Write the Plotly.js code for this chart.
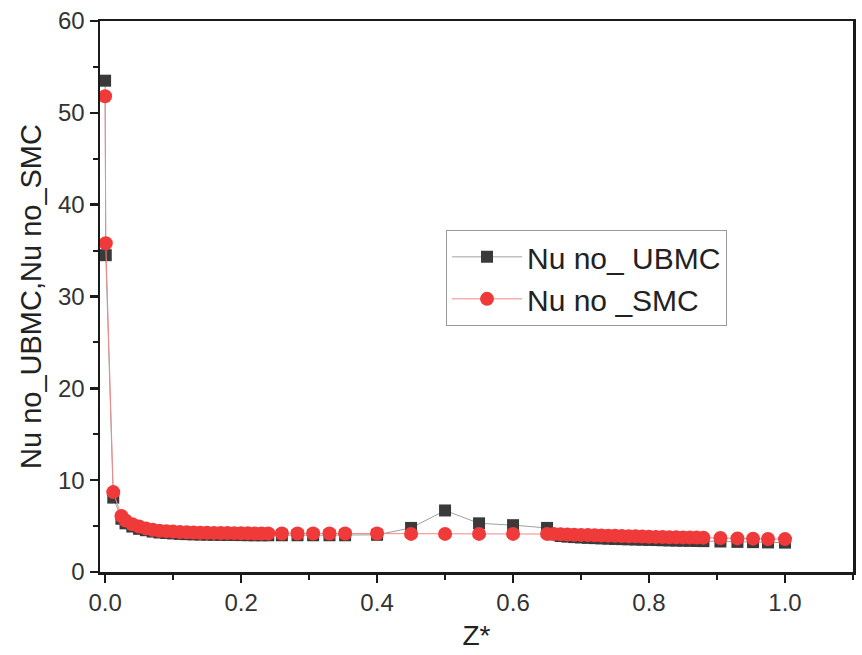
<!DOCTYPE html>
<html>
<head>
<meta charset="utf-8">
<script src="https://cdn.plot.ly/plotly-3.0.1.min.js"></script>
<style>html,body{margin:0;padding:0;background:#fff;}#chart{width:862px;height:655px;}</style>
</head>
<body>
<div id="chart"></div>
<script>
const zStar = [0, 0.001, 0.012, 0.024, 0.03, 0.04, 0.05, 0.06, 0.07, 0.08, 0.09, 0.10, 0.11,
  0.12, 0.13, 0.14, 0.15, 0.16, 0.17, 0.18, 0.19, 0.20, 0.21, 0.22, 0.23, 0.24,
  0.26, 0.283, 0.306, 0.33, 0.353,
  0.40, 0.45, 0.50, 0.55, 0.60, 0.65,
  0.66, 0.67, 0.68, 0.69, 0.70, 0.71, 0.72, 0.73, 0.74, 0.75, 0.76, 0.77, 0.78, 0.79, 0.80, 0.81, 0.82, 0.83, 0.84, 0.85, 0.86, 0.87, 0.88,
  0.905, 0.93, 0.953, 0.975, 1.0];

const nuUBMC = [53.5, 34.5, 8.1, 5.8, 5.3, 4.95, 4.7, 4.55, 4.4, 4.3, 4.25, 4.2, 4.15,
  4.12, 4.1, 4.08, 4.07, 4.06, 4.05, 4.04, 4.03, 4.02, 4.01, 4.0, 4.0, 4.0,
  4.0, 4.0, 4.0, 4.0, 4.0,
  4.05, 4.8, 6.7, 5.3, 5.1, 4.8,
  4.1, 3.92, 3.85, 3.8, 3.76, 3.72, 3.69, 3.66, 3.63, 3.6, 3.58, 3.56, 3.54, 3.52, 3.5, 3.48, 3.46, 3.44, 3.42, 3.41, 3.4, 3.38, 3.36,
  3.32, 3.28, 3.25, 3.22, 3.2];

const nuSMC = [51.8, 35.8, 8.7, 6.1, 5.6, 5.2, 4.95, 4.75, 4.6, 4.5, 4.45, 4.4, 4.35,
  4.32, 4.3, 4.28, 4.27, 4.26, 4.25, 4.24, 4.23, 4.22, 4.21, 4.2, 4.2, 4.2,
  4.2, 4.2, 4.2, 4.2, 4.2,
  4.2, 4.15, 4.15, 4.15, 4.15, 4.15,
  4.13, 4.1, 4.08, 4.06, 4.04, 4.02, 4.0, 3.98, 3.96, 3.94, 3.92, 3.9, 3.88, 3.86, 3.84, 3.82, 3.8, 3.79, 3.78, 3.77, 3.76, 3.75, 3.74,
  3.7, 3.66, 3.63, 3.6, 3.58];

const seriesNames = ['Nu no_ UBMC', 'Nu no _SMC'];
const xTickVals = [0, 0.2, 0.4, 0.6, 0.8, 1.0];
const xTickText = ['0.0', '0.2', '0.4', '0.6', '0.8', '1.0'];
const yTickVals = [0, 10, 20, 30, 40, 50, 60];

const FONT = 'Liberation Sans, Arial, sans-serif';

const traces = [
  {
    x: zStar, y: nuUBMC, name: seriesNames[0], type: 'scatter', mode: 'lines+markers',
    line: {color: '#a0a0a0', width: 1},
    marker: {symbol: 'square', size: 12, color: '#3a3a3a'}
  },
  {
    x: zStar, y: nuSMC, name: seriesNames[1], type: 'scatter', mode: 'lines+markers',
    line: {color: '#f08a8a', width: 1},
    marker: {symbol: 'circle', size: 14, color: '#f03a3a'}
  }
];

const axisCommon = {
  showline: true, linecolor: '#1a1a1a', linewidth: 2.5, mirror: true,
  ticks: 'outside', ticklen: 8, tickwidth: 2.5, tickcolor: '#1a1a1a',
  showgrid: false, zeroline: false,
  tickfont: {family: FONT, size: 24, color: '#333'}
};

const layout = {
  width: 862, height: 655,
  margin: {l: 100, r: 9, t: 21, b: 83},
  paper_bgcolor: '#fff', plot_bgcolor: '#fff',
  showlegend: true,
  legend: {
    x: 0.4595, y: 0.621, xanchor: 'left', yanchor: 'top',
    bgcolor: '#fff', bordercolor: '#999', borderwidth: 1,
    font: {family: FONT, size: 30, color: '#222'},
    itemwidth: 70,
    tracegroupgap: 0
  },
  xaxis: Object.assign({}, axisCommon, {
    range: [-0.0075, 1.1],
    tickmode: 'array', tickvals: xTickVals, ticktext: xTickText,
    minor: {dtick: 0.1, ticks: 'outside', ticklen: 5, tickwidth: 2, tickcolor: '#1a1a1a'},
    title: {text: 'Z*', font: {family: FONT, size: 28, color: '#222'}, standoff: 10}
  }),
  yaxis: Object.assign({}, axisCommon, {
    range: [0, 60],
    tickmode: 'array', tickvals: yTickVals,
    minor: {dtick: 5, ticks: 'outside', ticklen: 5, tickwidth: 2, tickcolor: '#1a1a1a'},
    title: {text: 'Nu no_UBMC,Nu no_SMC', font: {family: FONT, size: 29, color: '#222'}, standoff: 8}
  })
};

Plotly.newPlot('chart', traces, layout, {displayModeBar: false, staticPlot: true});
</script>
</body>
</html>
